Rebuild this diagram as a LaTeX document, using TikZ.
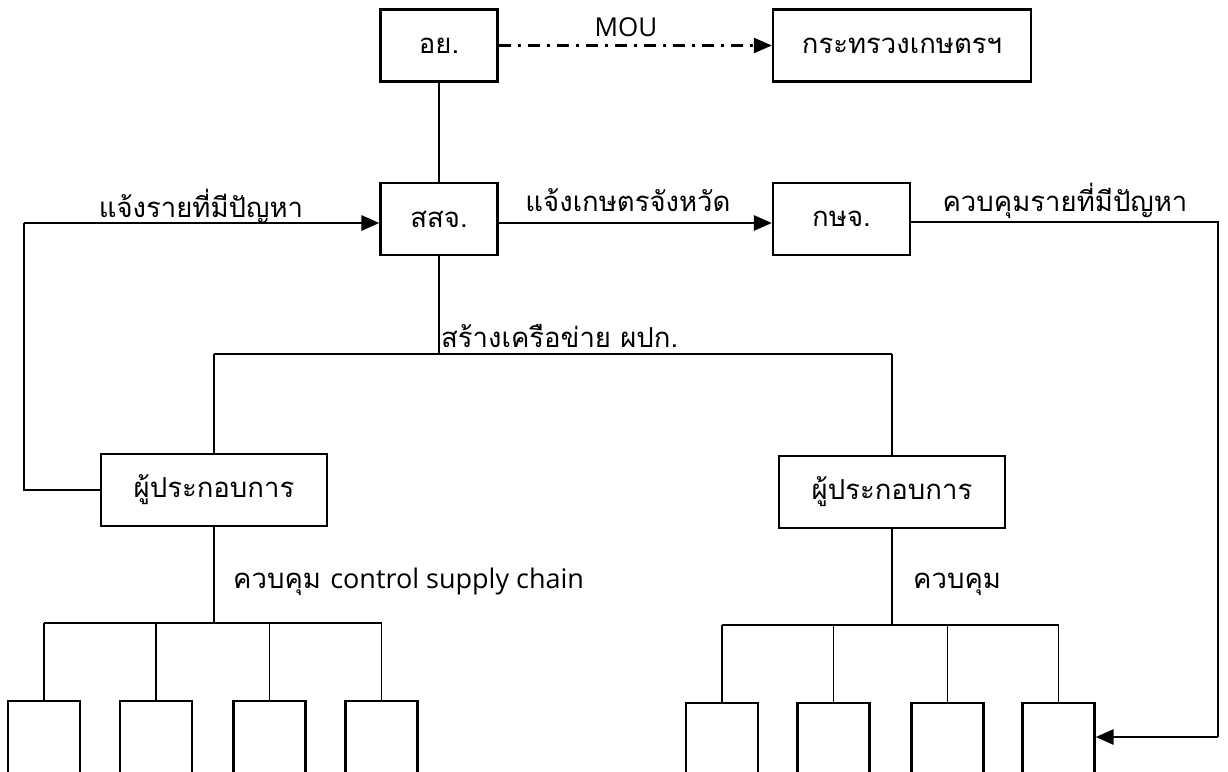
\documentclass[tikz,border=0pt]{standalone}
\usepackage{fontspec}
\setmainfont{Open Sans}
\newfontfamily\thaifont[Script=Thai]{Loma}
\usetikzlibrary{arrows.meta}
\begin{document}
\begin{tikzpicture}[x=1pt,y=-1pt,
  thaitext/.style={font=\thaifont\fontsize{27.5}{32}\selectfont},
  latintext/.style={font=\fontsize{26}{30}\selectfont},
  box/.style={draw,line width=2.3pt,minimum height=72pt,inner sep=0pt,thaitext},
  leaf/.style={draw,line width=2.3pt,minimum width=72pt,minimum height=120pt,inner sep=0pt,anchor=north},
  conn/.style={line width=1.5pt},
  heavy/.style={line width=2.8pt},
  tip/.style={-{Triangle[length=18pt,width=15pt]}},
  lbl/.style={thaitext,inner sep=0pt}]
\clip (0,0) rectangle (1228,771);
\fill[white] (0,0) rectangle (1228,771);
% main boxes
\node[box,minimum width=117pt] (ay) at (439,45.5) {อย.};
\node[box,minimum width=258pt] (moa) at (902,45.5) {กระทรวงเกษตรฯ};
\node[box,minimum width=117pt] (ssj) at (439,219) {สสจ.};
\node[box,minimum width=137pt] (ksj) at (841.5,219) {กษจ.};
\node[box,minimum width=226pt] (opL) at (214,490) {ผู้ประกอบการ};
\node[box,minimum width=226pt] (opR) at (892,492) {ผู้ประกอบการ};
% leaf boxes
\node[leaf] (l1) at (44,700) {};
\node[leaf] (l2) at (156,700) {};
\node[leaf] (l3) at (269.5,700) {};
\node[leaf] (l4) at (381.5,700) {};
\node[leaf] (r1) at (722,702) {};
\node[leaf] (r2) at (833.5,702) {};
\node[leaf] (r3) at (947.5,702) {};
\node[leaf] (r4) at (1058.5,702) {};
% coordinates
\coordinate (lt) at (24,223);
\coordinate (lb) at (24,490);
\coordinate (kr) at (1218,222);
\coordinate (kb) at (1218,737);
\coordinate (bus1) at (ssj.south |- 0,354);
\coordinate (bus1L) at (opL.north |- 0,354);
\coordinate (bus1R) at (opR.north |- 0,354);
\coordinate (bus2) at (opL.south |- 0,623);
\coordinate (bus2L) at (l1.north |- 0,623);
\coordinate (bus2R) at (l4.north |- 0,623);
\coordinate (bus3) at (opR.south |- 0,625);
\coordinate (bus3L) at (r1.north |- 0,625);
\coordinate (bus3R) at (r4.north |- 0,625);
% connectors
\draw[line width=2.4pt,dash pattern=on 12pt off 7pt on 3pt off 7pt,tip] (ay.east) -- (moa.west);
\draw[conn] (ay.south) -- (ssj.north);
\draw[conn] (opL.west) -- (lb) -- (lt);
\draw[heavy,tip] (lt) -- (ssj.west |- lt);
\draw[heavy,tip] (ssj.east |- 0,223) -- (ksj.west |- 0,223);
\draw[conn] (ksj.east |- kr) -- (kr) -- (kb);
\draw[heavy,tip] (kb) -- (r4.east |- kb);
\draw[conn] (ssj.south) -- (bus1);
\draw[conn] (bus1L) -- (bus1R);
\draw[conn] (bus1L) -- (opL.north);
\draw[conn] (bus1R) -- (opR.north);
\draw[conn] (opL.south) -- (bus2);
\draw[conn] (bus2L) -- (bus2R);
\foreach \n in {l1,l2,l3,l4} \draw[conn] (\n.north |- bus2) -- (\n.north);
\draw[conn] (opR.south) -- (bus3);
\draw[conn] (bus3L) -- (bus3R);
\foreach \n in {r1,r2,r3,r4} \draw[conn] (\n.north |- bus3) -- (\n.north);
% labels
\node[latintext,inner sep=0pt] (mou) at (626,27) {MOU};
\node[lbl,anchor=base] (t1) at (201,217) {แจ้งรายที่มีปัญหา};
\node[lbl,anchor=base] (t2) at (628,211) {แจ้งเกษตรจังหวัด};
\node[lbl,anchor=base] (t3) at (1065,211) {ควบคุมรายที่มีปัญหา};
\node[lbl,anchor=base west] (t4) at (441,347) {สร้างเครือข่าย ผปก.};
\node[lbl,anchor=base west] (t5) at (233,588) {ควบคุม {\normalfont\fontsize{27}{30}\selectfont control supply chain}};
\node[lbl,anchor=base west] (t6) at (913,588) {ควบคุม};
\end{tikzpicture}
\end{document}
